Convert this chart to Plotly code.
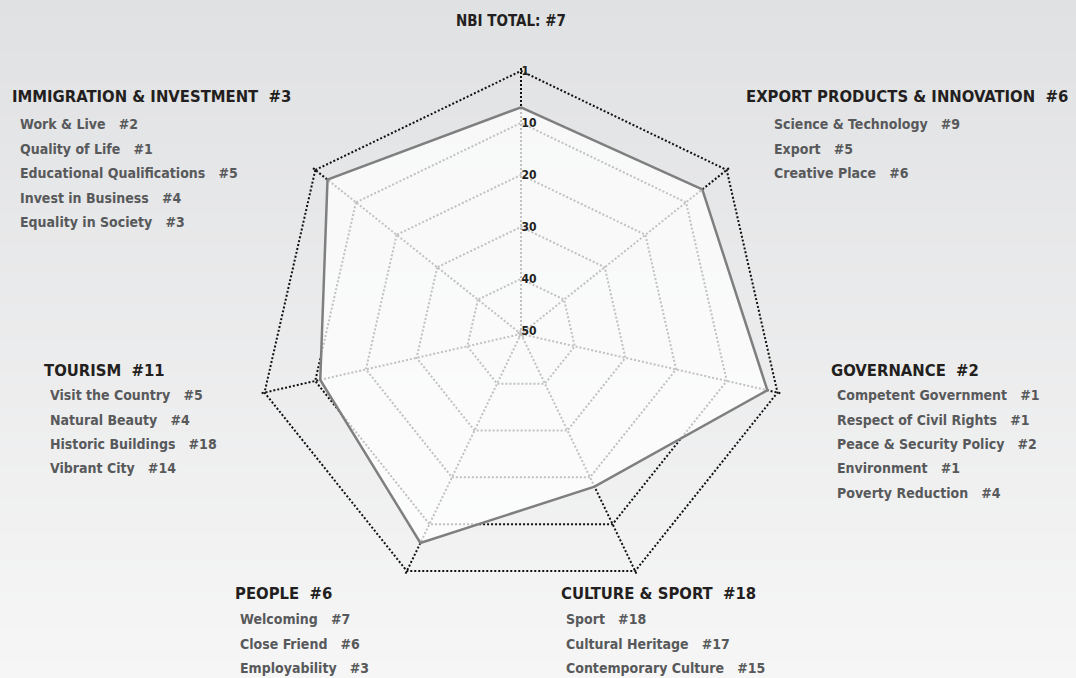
import plotly.graph_objects as go

# ---------------- data ----------------
categories = ["NBI Total", "Export Products & Innovation", "Governance",
              "Culture & Sport", "People", "Tourism", "Immigration & Investment"]
ranks = [7, 6, 2, 18, 6, 11, 3]

radial_tickvals = [0, 10, 20, 30, 40, 50]
radial_ticktext = ["1", "10", "20", "30", "40", "50"]

title_text = "NBI TOTAL: #7"

imm_head = "IMMIGRATION & INVESTMENT  #3"
imm_items = ["Work & Live", "Quality of Life", "Educational Qualifications",
             "Invest in Business", "Equality in Society"]
imm_ranks = [2, 1, 5, 4, 3]

exp_head = "EXPORT PRODUCTS & INNOVATION  #6"
exp_items = ["Science & Technology", "Export", "Creative Place"]
exp_ranks = [9, 5, 6]

gov_head = "GOVERNANCE  #2"
gov_items = ["Competent Government", "Respect of Civil Rights",
             "Peace & Security Policy", "Environment", "Poverty Reduction"]
gov_ranks = [1, 1, 2, 1, 4]

tour_head = "TOURISM  #11"
tour_items = ["Visit the Country", "Natural Beauty", "Historic Buildings", "Vibrant City"]
tour_ranks = [5, 4, 18, 14]

ppl_head = "PEOPLE  #6"
ppl_items = ["Welcoming", "Close Friend", "Employability"]
ppl_ranks = [7, 6, 3]

cul_head = "CULTURE & SPORT  #18"
cul_items = ["Sport", "Cultural Heritage", "Contemporary Culture"]
cul_ranks = [18, 17, 15]

# ---------------- layout constants ----------------
W, H = 1076, 678
FONT = "DejaVu Sans Condensed, DejaVu Sans, sans-serif"
HEAD_COLOR = "#231f20"
SUB_COLOR = "#58595b"
NB = "\u00a0"
HEAD_SIZE = 16.5
SUB_SIZE = 14

R_MIN, R_MAX = 50.6, -0.6  # reversed rank axis (best rank outside)
cx, cy = 521, 334          # centre in px (from top-left)
R = 266.2                  # polar radius in px
dom_x = [(cx - R) / W, (cx + R) / W]
dom_y = [(H - cy - R) / H, (H - cy + R) / H]

fig = go.Figure()

theta_closed = categories + [categories[0]]
r_closed = ranks + [ranks[0]]

fig.add_trace(go.Scatterpolar(
    r=r_closed, theta=theta_closed, mode="lines",
    fill="toself", fillcolor="rgba(255,255,255,0.74)",
    line=dict(color="#7f7f7f", width=2.5),
    hoverinfo="skip", showlegend=False,
))

# background gradient
n_strips = 80
c_top = (224, 225, 227)
c_bot = (246, 246, 246)
shapes = []
for i in range(n_strips):
    t = i / (n_strips - 1)
    col = tuple(round(c_top[k] + (c_bot[k] - c_top[k]) * t) for k in range(3))
    shapes.append(dict(type="rect", xref="paper", yref="paper",
                       x0=0, x1=1, y0=1 - (i + 1) / n_strips - 0.001, y1=1 - i / n_strips,
                       fillcolor="rgb(%d,%d,%d)" % col, line=dict(width=0), layer="below"))

annotations = []

def add_text(txt, x, y, size, color, anchor="left"):
    annotations.append(dict(text=txt, x=x / W, y=1 - y / H, xref="paper", yref="paper",
                            xanchor=anchor, yanchor="middle", showarrow=False,
                            font=dict(family=FONT, size=size, color=color, weight="bold")))

def add_block(head, items, rks, hx, hy, sx, sy0, step, anchor="left"):
    add_text(head.replace(" ", NB), hx, hy, HEAD_SIZE, HEAD_COLOR, anchor)
    for j, (it, rk) in enumerate(zip(items, rks)):
        add_text((it + "   #" + str(rk)).replace(" ", NB), sx, sy0 + j * step, SUB_SIZE, SUB_COLOR)

add_text(title_text.replace(" ", NB), 511, 21, 15, HEAD_COLOR, "center")
add_block(imm_head, imm_items, imm_ranks, 10, 97, 18, 124, 24.5)
add_block(exp_head, exp_items, exp_ranks, 1070, 97, 772, 124, 24.5, anchor="right")
add_block(gov_head, gov_items, gov_ranks, 829, 370, 835, 395, 24.5)
add_block(tour_head, tour_items, tour_ranks, 42, 370, 48, 395, 24.5)
add_block(ppl_head, ppl_items, ppl_ranks, 233, 593, 238, 619, 24.5)
add_block(cul_head, cul_items, cul_ranks, 559, 593, 564, 619, 24.5)

fig.update_layout(
    width=W, height=H,
    margin=dict(l=0, r=0, t=0, b=0),
    paper_bgcolor="#ececed",
    plot_bgcolor="rgba(0,0,0,0)",
    shapes=shapes,
    annotations=annotations,
    showlegend=False,
    polar=dict(
        domain=dict(x=dom_x, y=dom_y),
        bgcolor="rgba(0,0,0,0)",
        gridshape="linear",
        radialaxis=dict(
            range=[R_MIN, R_MAX],
            tickvals=radial_tickvals, ticktext=radial_ticktext,
            angle=90, tickangle=90, side="clockwise",
            showline=False, ticks="",
            showgrid=True, gridcolor="#111111", gridwidth=1.6, griddash="2px,2px",
            tickfont=dict(family=FONT, size=12, color=HEAD_COLOR, weight="bold"),
        ),
        angularaxis=dict(
            direction="clockwise", rotation=90,
            showline=False, showticklabels=False, ticks="",
            showgrid=True, gridcolor="#111111", gridwidth=1.6, griddash="2px,2px",
        ),
    ),
)

fig.write_html("out.html", config={"displayModeBar": False},
               post_script="document.body.style.margin='0';")
